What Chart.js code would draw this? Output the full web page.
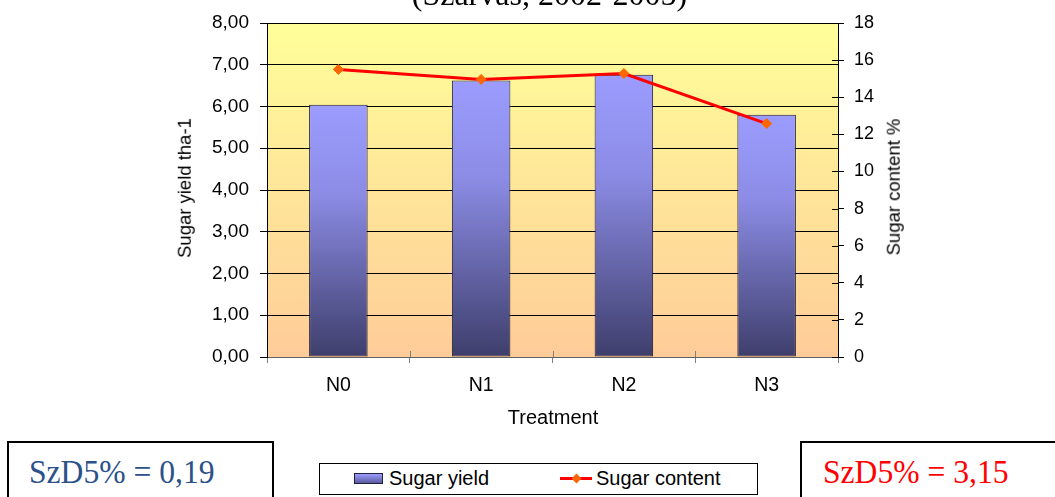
<!DOCTYPE html>
<html>
<head>
<meta charset="utf-8">
<script src="https://cdn.jsdelivr.net/npm/chart.js@4.4.0/dist/chart.umd.min.js"></script>
<style>
  html, body { margin: 0; padding: 0; background: #fff; }
  #wrap { position: relative; width: 1055px; height: 497px; overflow: hidden; }
  #c { position: absolute; left: 0; top: 0; }
  .t { position: absolute; white-space: nowrap; line-height: 1; color: #000; }
  .sans { font-family: "Liberation Sans", Arial, sans-serif; }
  .serif { font-family: "Liberation Serif", "Times New Roman", serif; }
  .rot { transform: translate(-50%, -50%) rotate(-90deg); }
  .box { position: absolute; border: 2px solid #000; background: #fff; box-sizing: border-box; }
</style>
</head>
<body>
<div id="wrap">
  <canvas id="c" width="1055" height="497"></canvas>

  <div class="t serif" id="title" style="font-size:32px; top:-22px; left:549.5px; transform:translateX(-50%);">(Szarvas, 2002-2005)</div>

  <div class="t sans rot" style="font-size:18.5px; left:184.5px; top:187.5px;">Sugar yield tha-1</div>
  <div class="t sans rot" style="font-size:18.5px; left:893.5px; top:186.5px;">Sugar content %</div>
  <div class="t sans" style="font-size:20px; left:553px; top:406.8px; transform:translateX(-50%);">Treatment</div>

  <div class="box" style="left:7px; top:441px; width:267px; height:80px;"></div>
  <div class="t serif" style="font-size:34px; left:29px; top:454.8px; color:#2B5189; transform:scaleX(0.93); transform-origin:left top;">SzD5% = 0,19</div>

  <div class="box" style="left:800px; top:441px; width:300px; height:80px;"></div>
  <div class="t serif" style="font-size:34px; left:822.7px; top:454.8px; color:#FF0000; transform:scaleX(0.93); transform-origin:left top;">SzD5% = 3,15</div>

  <div class="box" style="left:319px; top:462.5px; width:439px; height:32px; border-width:1px;"></div>
  <div style="position:absolute; left:354px; top:473px; width:29px; height:11px; box-sizing:border-box; border:1px solid #202040; background:linear-gradient(#9C9CFF, #5a5aa0);"></div>
  <div class="t sans" style="font-size:20px; left:389px; top:467.5px;">Sugar yield</div>
  <div style="position:absolute; left:560px; top:476.5px; width:32px; height:3px; background:#FF0000;"></div>
  <div style="position:absolute; left:572.5px; top:474.5px; width:7px; height:7px; background:#FF6600; transform:rotate(45deg);"></div>
  <div class="t sans" style="font-size:20px; left:596px; top:467.5px;">Sugar content</div>
</div>

<script>
const categories = ["N0", "N1", "N2", "N3"];
const sugarYield = [6.04, 6.62, 6.76, 5.80];
const sugarContent = [15.5, 14.96, 15.28, 12.58];
const leftTicks = { min: 0, max: 8, step: 1 };
const rightTicks = { min: 0, max: 18, step: 2 };

const bgPlugin = {
  id: 'plotBg',
  beforeDraw(chart) {
    const { ctx, chartArea: a } = chart;
    const g = ctx.createLinearGradient(0, a.top, 0, a.bottom);
    g.addColorStop(0, '#FFFF99');
    g.addColorStop(1, '#FFCC99');
    ctx.save();
    ctx.fillStyle = g;
    ctx.fillRect(a.left, a.top, a.right - a.left, a.bottom - a.top);
    ctx.restore();
  },
  afterDraw(chart) {
    const { ctx, chartArea: a } = chart;
    const xs = chart.scales.x, y1 = chart.scales.y1;
    ctx.save();
    ctx.lineWidth = 1;
    ctx.strokeStyle = '#808080';
    for (let i = 1; i < categories.length; i++) {
      const x = Math.round((xs.getPixelForValue(i - 1) + xs.getPixelForValue(i)) / 2) + 0.5;
      ctx.beginPath(); ctx.moveTo(x, a.bottom - 6); ctx.lineTo(x, a.bottom); ctx.stroke();
    }
    ctx.strokeStyle = '#000';
    y1.ticks.forEach(t => {
      const y = Math.round(y1.getPixelForValue(t.value)) + 0.5;
      ctx.beginPath(); ctx.moveTo(a.right - 6, y); ctx.lineTo(a.right, y); ctx.stroke();
    });
    ctx.restore();
  }
};

function barGradient(context) {
  const chart = context.chart;
  const ys = chart.scales.y;
  if (!ys || context.raw === undefined) return '#8080d0';
  const top = ys.getPixelForValue(context.raw);
  const bottom = ys.getPixelForValue(0);
  if (!isFinite(top) || !isFinite(bottom) || top === bottom) return '#8080d0';
  const g = chart.ctx.createLinearGradient(0, top, 0, bottom);
  g.addColorStop(0, '#9C9CFF');
  g.addColorStop(0.35, '#8C8CE6');
  g.addColorStop(1, '#3E3E6C');
  return g;
}

new Chart(document.getElementById('c'), {
  data: {
    labels: categories,
    datasets: [
      {
        type: 'line',
        label: 'Sugar content',
        data: sugarContent,
        yAxisID: 'y1',
        borderColor: '#FF0000',
        borderWidth: 3,
        tension: 0,
        pointStyle: 'rectRot',
        pointRadius: 5,
        pointBackgroundColor: '#FF6600',
        pointBorderColor: '#FF6600',
        pointBorderWidth: 1,
        order: 1
      },
      {
        type: 'bar',
        label: 'Sugar yield',
        data: sugarYield,
        yAxisID: 'y',
        backgroundColor: barGradient,
        borderColor: '#1A1A33',
        borderWidth: 1,
        borderSkipped: false,
        barPercentage: 0.41,
        categoryPercentage: 1.0,
        order: 2
      }
    ]
  },
  options: {
    responsive: false,
    animation: false,
    events: [],
    layout: { padding: { top: 23, bottom: 100, left: 0, right: 0 } },
    plugins: { legend: { display: false }, tooltip: { enabled: false }, title: { display: false } },
    scales: {
      x: {
        type: 'category',
        offset: true,
        grid: { display: true, drawOnChartArea: false, drawTicks: true, tickLength: 6, color: '#808080', lineWidth: 1 },
        border: { display: true, color: '#606060', width: 1 },
        ticks: { color: '#000', font: { family: 'Liberation Sans, Arial', size: 19.5 }, padding: 11, maxRotation: 0 },
        afterFit(s) { s.height = 40; s.paddingLeft = 0; s.paddingRight = 0; }
      },
      y: {
        position: 'left',
        min: leftTicks.min, max: leftTicks.max,
        grid: { color: '#000', lineWidth: 1, tickLength: 7, drawTicks: true },
        border: { display: true, color: '#000', width: 1 },
        ticks: {
          stepSize: leftTicks.step,
          color: '#000',
          padding: 11,
          font: { family: 'Liberation Sans, Arial', size: 19 },
          callback: v => v.toFixed(2).replace('.', ',')
        },
        afterFit(s) { s.width = 267; s.paddingTop = 0; s.paddingBottom = 0; }
      },
      y1: {
        position: 'right',
        min: rightTicks.min, max: rightTicks.max,
        grid: { drawOnChartArea: false, color: '#000', lineWidth: 1, tickLength: 6, drawTicks: true },
        border: { display: true, color: '#000', width: 1 },
        ticks: {
          stepSize: rightTicks.step,
          color: '#000',
          padding: 10,
          font: { family: 'Liberation Sans, Arial', size: 18 }
        },
        afterFit(s) { s.width = 217; s.paddingTop = 0; s.paddingBottom = 0; }
      }
    }
  },
  plugins: [bgPlugin]
});
</script>
</body>
</html>
